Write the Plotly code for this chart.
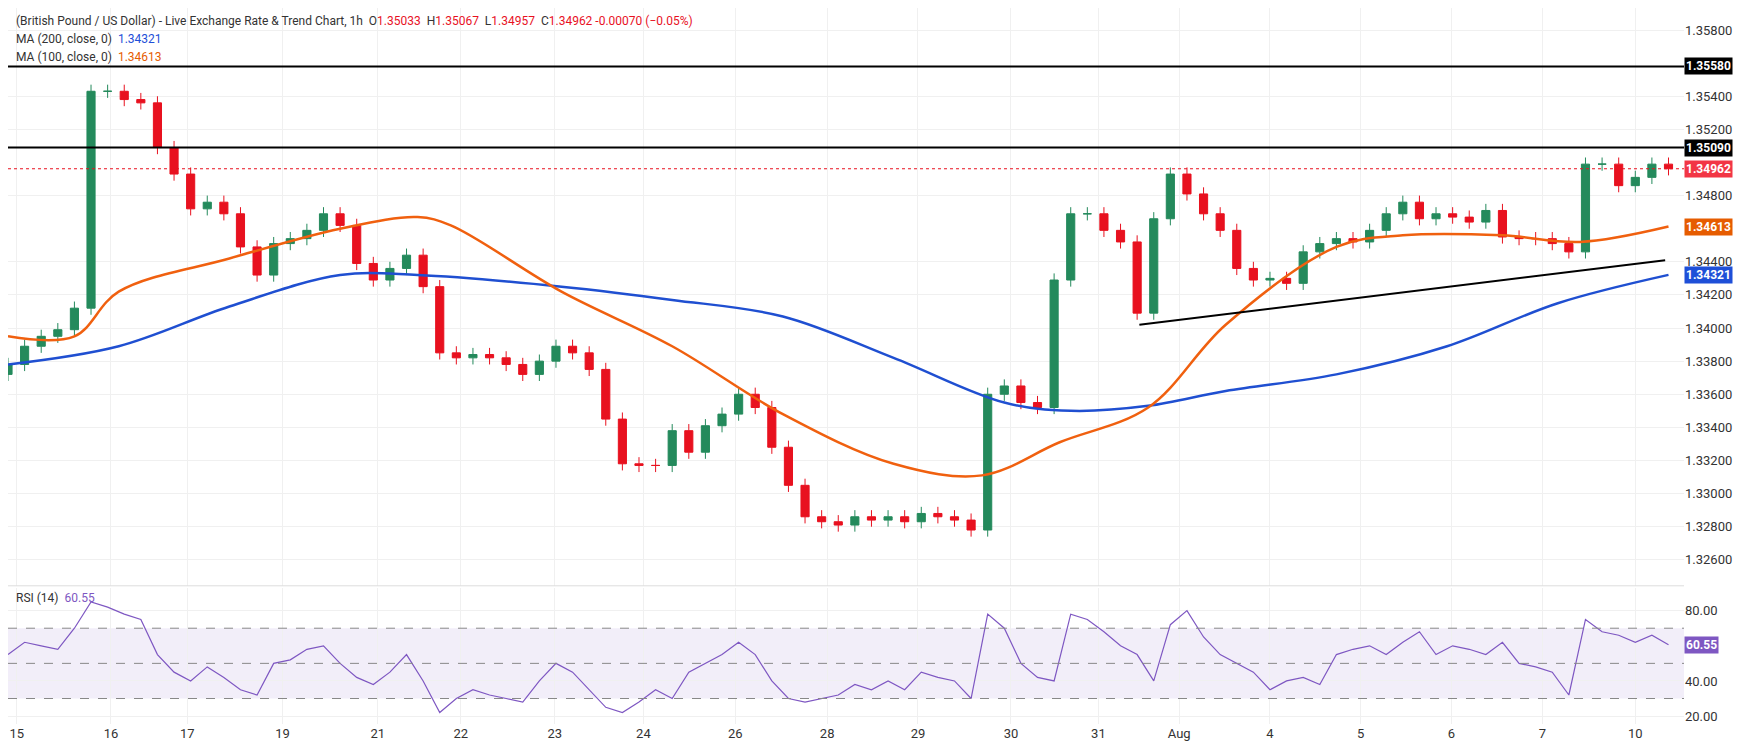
import plotly.graph_objects as go

# candle positions (chart units) and closes
step = 15
closes = [1.3378,1.3389,1.3395,1.3399,1.3412,1.3543,1.3543,1.3538,1.3536,1.3509,
          1.3493,1.3472,1.3476,1.3469,1.3449,1.3432,1.3451,1.3454,1.3459,1.3469,
          1.3462,1.3439,1.3429,1.3436,1.3444,1.3425,1.3385,1.3382,1.3384,1.3382,
          1.3378,1.3372,1.3380,1.3389,1.3385,1.3375,1.3345,1.3318,1.3317,1.3317,
          1.3338,1.3325,1.3341,1.3348,1.3360,1.3352,1.3328,1.3305,1.3286,1.3283,
          1.3281,1.3286,1.3284,1.3286,1.3283,1.3288,1.3286,1.3284,1.3278,1.3360,
          1.3365,1.3355,1.3352,1.3429,1.3469,1.3469,1.3459,1.3452,1.3409,1.3466,
          1.3493,1.3481,1.3469,1.3459,1.3436,1.3429,1.3430,1.3427,1.3446,1.3451,
          1.3454,1.3452,1.3459,1.3469,1.3476,1.3466,1.3469,1.3467,1.3464,1.3471,
          1.3455,1.3454,1.3454,1.3451,1.3446,1.3499,1.3499,1.3486,1.3491,1.3499,
          1.34962]
first_open = 1.3372
wick = 0.0004

rsi = [55,62,60,58,70,85,82,78,75,55,
       45,40,48,42,35,32,50,52,58,60,
       50,42,38,45,55,40,22,30,35,32,
       30,28,40,50,45,35,25,22,28,35,
       30,45,50,55,62,55,40,30,28,30,
       32,38,35,40,35,45,42,40,30,78,
       70,50,42,40,78,75,68,60,55,40,
       72,80,65,55,50,45,35,40,42,38,
       55,58,60,55,62,68,55,60,58,55,
       62,50,48,45,32,75,68,66,62,66,
       60.55]

ma200_x = [0,100,200,300,370,500,600,700,800,900,960,1030,1100,1200,1300,1400,1500]
ma200_y = [1.3378,1.3389,1.3413,1.3432,1.3432,1.3425,1.3417,1.3407,1.3382,1.3355,1.3350,1.3353,1.3362,1.3372,1.3389,1.3415,1.34321]
ma100_x = [0,60,100,200,300,370,400,500,600,700,800,880,950,1030,1100,1200,1260,1350,1420,1500]
ma100_y = [1.3395,1.3395,1.3422,1.3442,1.3460,1.3467,1.3462,1.3422,1.3389,1.3348,1.3318,1.3311,1.3331,1.3352,1.3402,1.3449,1.3456,1.3456,1.3452,1.34613]

trend_x = [1022, 1497]
trend_y = [1.3402, 1.3441]
levels = [1.3558, 1.3509]
last_price = 1.34962

tick_pos = [8,93,162,248,334,409,494,574,657,740,822,906,985,1058,1140,1222,1304,1386,1470]
tick_lab = ["15","16","17","19","21","22","23","24","26","28","29","30","31","Aug","4","5","6","7","10"]
price_ticks = [1.3580,1.3540,1.3520,1.3480,1.3440,1.3420,1.3400,1.3380,1.3360,1.3340,1.3320,1.3300,1.3280,1.3260]
rsi_ticks = [20,40,80]

xs = [i*step for i in range(len(closes))]
opens = [first_open] + closes[:-1]
highs = [max(o, c) + wick for o, c in zip(opens, closes)]
lows = [min(o, c) - wick for o, c in zip(opens, closes)]

fig = go.Figure()
fig.add_trace(go.Scatter(x=ma200_x, y=ma200_y, mode='lines', line=dict(color='#1f4fd1', width=2.5, shape='spline'), yaxis='y', hoverinfo='skip'))
fig.add_trace(go.Scatter(x=ma100_x, y=ma100_y, mode='lines', line=dict(color='#f0600f', width=2.5, shape='spline'), yaxis='y', hoverinfo='skip'))
fig.add_trace(go.Candlestick(x=xs, open=opens, high=highs, low=lows, close=closes,
    increasing=dict(line=dict(color='#248a5c', width=1), fillcolor='#248a5c'),
    decreasing=dict(line=dict(color='#e8111f', width=1), fillcolor='#e8111f'), whiskerwidth=0))
fig.add_trace(go.Scatter(x=trend_x, y=trend_y, mode='lines', line=dict(color='black', width=2), hoverinfo='skip'))
fig.add_trace(go.Scatter(x=xs, y=rsi, mode='lines', line=dict(color='#7e57c2', width=1.2), yaxis='y2', hoverinfo='skip'))

shapes = []
for lv in levels:
    shapes.append(dict(type='line', xref='x domain', x0=0, x1=1, yref='y', y0=lv, y1=lv, line=dict(color='black', width=2)))
shapes.append(dict(type='line', xref='x domain', x0=0, x1=1, yref='y', y0=last_price, y1=last_price, line=dict(color='#e8111f', width=1, dash='dot')))
shapes.append(dict(type='rect', xref='x domain', x0=0, x1=1, yref='y2', y0=30, y1=70, fillcolor='rgba(126,87,194,0.1)', line=dict(width=0), layer='below'))
for lv in [30, 50, 70]:
    shapes.append(dict(type='line', xref='x domain', x0=0, x1=1, yref='y2', y0=lv, y1=lv, line=dict(color='#888', width=1, dash='dash')))
shapes.append(dict(type='line', xref='paper', x0=0, x1=1, yref='paper', y0=0.193, y1=0.193, line=dict(color='#ddd', width=1)))

ann = []
def tag(y, text, bg, yref='y'):
    ann.append(dict(xref='paper', x=1.0, xanchor='left', yref=yref, y=y, text=text, showarrow=False,
                    font=dict(color='white', size=12, family='Roboto'), bgcolor=bg, borderpad=1, xshift=0))
tag(1.3558, '<b>1.35580</b>', '#000000')
tag(1.3509, '<b>1.35090</b>', '#000000')
tag(last_price, '<b>1.34962</b>', '#f23645')
tag(1.34613, '<b>1.34613</b>', '#e65c00')
tag(1.34321, '<b>1.34321</b>', '#1e4fd8')
tag(60.55, '<b>60.55</b>', '#7e57c2', 'y2')

hdr = [("(British Pound / US Dollar) - Live Exchange Rate &amp; Trend Chart, 1h  O<span style='color:#e8111f'>1.35033</span>  H<span style='color:#e8111f'>1.35067</span>  L<span style='color:#e8111f'>1.34957</span>  C<span style='color:#e8111f'>1.34962</span> <span style='color:#e8111f'>-0.00070 (−0.05%)</span>", 13),
       ("MA (200, close, 0)  <span style='color:#1e4fd8'>1.34321</span>", 31),
       ("MA (100, close, 0)  <span style='color:#e65c00'>1.34613</span>", 49)]
for t, py in hdr:
    ann.append(dict(xref='paper', x=0, xanchor='left', yref='paper', y=1 - py/716, yanchor='middle', text=t,
                    showarrow=False, font=dict(size=12, color='#333', family='Roboto'), xshift=6))
ann.append(dict(xref='paper', x=0, xanchor='left', yref='paper', y=0.19 - 10/716, yanchor='middle',
                text="RSI (14)  <span style='color:#7e57c2'>60.55</span>", showarrow=False,
                font=dict(size=12, color='#333', family='Roboto'), xshift=6))

fig.update_layout(
    width=1746, height=748, margin=dict(l=0, r=70, t=0, b=32),
    plot_bgcolor='white', paper_bgcolor='white', showlegend=False,
    shapes=shapes, annotations=ann, font=dict(family='Roboto', color='#333'),
    xaxis=dict(range=[0, 1514], tickvals=tick_pos, ticktext=tick_lab, showgrid=True, gridcolor='#f0f0f0',
               rangeslider=dict(visible=False), tickfont=dict(size=13), zeroline=False, ticks='', anchor='y2'),
    yaxis=dict(domain=[0.193, 1], range=[1.32443, 1.35933], side='right', tickvals=price_ticks, tickformat='.5f',
               showgrid=True, gridcolor='#f0f0f0', tickfont=dict(size=13), zeroline=False, anchor='x'),
    yaxis2=dict(domain=[0, 0.19], range=[15.5, 92.9], side='right', tickvals=rsi_ticks, tickformat='.2f',
                showgrid=True, gridcolor='#f0f0f0', tickfont=dict(size=13), zeroline=False, anchor='x'),
)
fig.write_html("out.html")
